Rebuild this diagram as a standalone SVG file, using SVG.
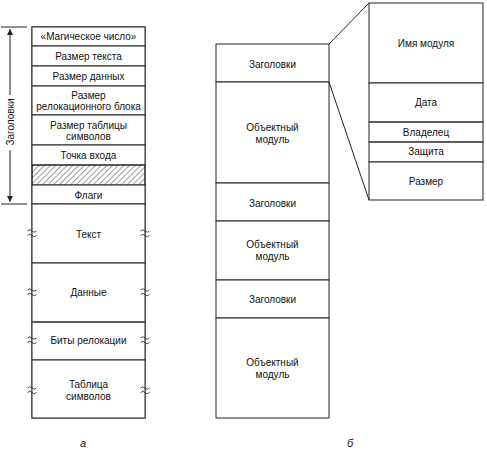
<svg xmlns="http://www.w3.org/2000/svg" width="487" height="453" viewBox="0 0 487 453">
<style>
text{font-family:"Liberation Sans",Arial,sans-serif;font-size:10px;fill:#111;text-anchor:middle}
.b{fill:#fff;stroke:#222;stroke-width:1}
.l{stroke:#222;stroke-width:1;fill:none}
.sq{stroke:#333;stroke-width:0.9;fill:none}
.it{font-style:italic;font-size:11px}
</style>
<defs>
<pattern id="hatch" width="4" height="4" patternUnits="userSpaceOnUse" patternTransform="rotate(45)">
<line x1="0" y1="0" x2="0" y2="4" stroke="#222" stroke-width="0.9"/>
</pattern>
<marker id="arr" markerWidth="8" markerHeight="8" refX="6" refY="3" orient="auto" markerUnits="userSpaceOnUse">
<path d="M0,0 L6,3 L0,6 Z" fill="#222"/>
</marker>
<g id="squig">
<path class="sq" d="M-4.5,-2 q2.25,-2.5 4.5,0 t4.5,0"/>
<path class="sq" d="M-4.5,2.5 q2.25,-2.5 4.5,0 t4.5,0"/>
</g>
</defs>

<!-- Left column (a) -->
<g id="a-col">
<rect class="b" x="32" y="27" width="113" height="391"/>
<g id="magic"><rect class="b" x="32" y="27" width="113" height="19"/><text x="88.5" y="40">«Магическое число»</text></g>
<g id="textsize"><rect class="b" x="32" y="46" width="113" height="20"/><text x="88.5" y="60">Размер текста</text></g>
<g id="datasize"><rect class="b" x="32" y="66" width="113" height="20"/><text x="88.5" y="80">Размер данных</text></g>
<g id="relocsize"><rect class="b" x="32" y="86" width="113" height="29"/><text x="88.5" y="98.5">Размер</text><text x="88.5" y="110">релокационного блока</text></g>
<g id="symsize"><rect class="b" x="32" y="115" width="113" height="30"/><text x="88.5" y="128.5">Размер таблицы</text><text x="88.5" y="140">символов</text></g>
<g id="entry"><rect class="b" x="32" y="145" width="113" height="20"/><text x="88.5" y="159">Точка входа</text></g>
<g id="hatched"><rect x="32" y="165" width="113" height="20" fill="url(#hatch)" stroke="#222"/></g>
<g id="flags"><rect class="b" x="32" y="185" width="113" height="19"/><text x="88.5" y="198.5">Флаги</text></g>
<g id="text"><rect class="b" x="32" y="204" width="113" height="59"/><text x="88.5" y="237.5">Текст</text></g>
<g id="data"><rect class="b" x="32" y="263" width="113" height="59"/><text x="88.5" y="295.5">Данные</text></g>
<g id="relocbits"><rect class="b" x="32" y="322" width="113" height="38"/><line x1="32" y1="322" x2="145" y2="322" stroke="#555" stroke-width="1.6"/><text x="88.5" y="343.5">Биты релокации</text></g>
<g id="symtab"><rect class="b" x="32" y="360" width="113" height="58"/><text x="88.5" y="387.5">Таблица</text><text x="88.5" y="399.5">символов</text></g>
</g>

<g id="squiggles">
<use href="#squig" x="32" y="233"/><use href="#squig" x="145" y="233"/>
<use href="#squig" x="32" y="292"/><use href="#squig" x="145" y="292"/>
<use href="#squig" x="32" y="340"/><use href="#squig" x="145" y="340"/>
<use href="#squig" x="32" y="390"/><use href="#squig" x="145" y="390"/>
</g>

<!-- Bracket -->
<g id="bracket">
<line class="l" x1="1" y1="27" x2="27" y2="27"/>
<line class="l" x1="1" y1="204" x2="27" y2="204"/>
<line class="l" x1="10" y1="95" x2="10" y2="29" marker-end="url(#arr)"/>
<line class="l" x1="10" y1="150" x2="10" y2="202" marker-end="url(#arr)"/>
<text x="10" y="122" transform="rotate(-90 10 122)" dy="3.5">Заголовки</text>
</g>

<!-- Right column (б) -->
<g id="b-col">
<g id="h1"><rect class="b" x="216" y="44" width="113" height="38"/><text x="272.5" y="67.5">Заголовки</text></g>
<g id="m1"><rect class="b" x="216" y="82" width="113" height="101"/><text x="272.5" y="130.5">Объектный</text><text x="272.5" y="142.5">модуль</text></g>
<g id="h2"><rect class="b" x="216" y="183" width="113" height="38"/><text x="272.5" y="206.5">Заголовки</text></g>
<g id="m2"><rect class="b" x="216" y="221" width="113" height="59"/><text x="272.5" y="247.5">Объектный</text><text x="272.5" y="259.5">модуль</text></g>
<g id="h3"><rect class="b" x="216" y="280" width="113" height="38"/><text x="272.5" y="302.5">Заголовки</text></g>
<g id="m3"><rect class="b" x="216" y="318" width="113" height="100"/><text x="272.5" y="365.5">Объектный</text><text x="272.5" y="377.5">модуль</text></g>
</g>

<!-- Detail box -->
<g id="detail">
<g id="modname"><rect class="b" x="369" y="3" width="114" height="80"/><text x="426" y="46.5">Имя модуля</text></g>
<g id="date"><rect class="b" x="369" y="83" width="114" height="39"/><text x="426" y="105.5">Дата</text></g>
<g id="owner"><rect class="b" x="369" y="122" width="114" height="20"/><line x1="369" y1="122" x2="483" y2="122" stroke="#555" stroke-width="1.6"/><text x="426" y="135.5">Владелец</text></g>
<g id="protect"><rect class="b" x="369" y="142" width="114" height="20"/><line x1="369" y1="142" x2="483" y2="142" stroke="#555" stroke-width="1.6"/><text x="426" y="155">Защита</text></g>
<g id="size"><rect class="b" x="369" y="162" width="114" height="38"/><text x="426" y="184.5">Размер</text></g>
</g>

<g id="connectors">
<line class="l" x1="329" y1="44" x2="369" y2="3"/>
<line class="l" x1="329" y1="82" x2="369" y2="200"/>
</g>

<text class="it" x="83" y="447">а</text>
<text class="it" x="350" y="447">б</text>
</svg>
